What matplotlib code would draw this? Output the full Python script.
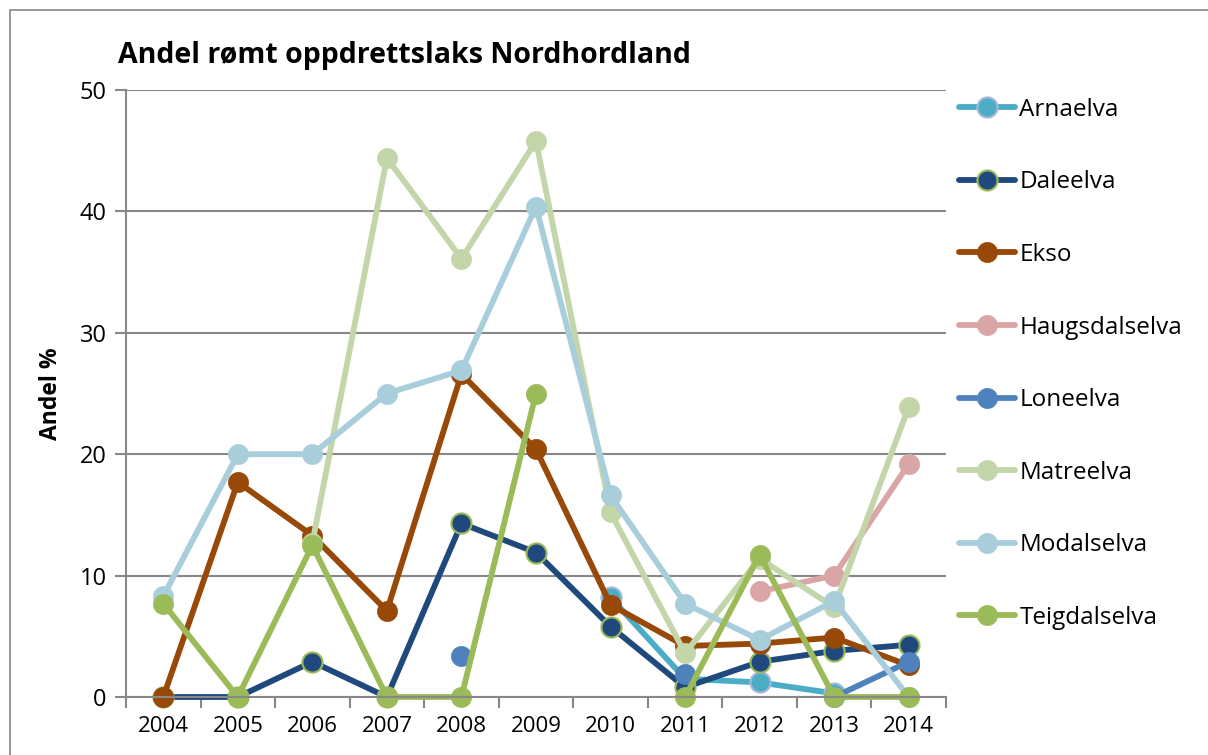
import matplotlib.pyplot as plt
import matplotlib.patches as patches
import numpy as np

plt.rcParams['font.family'] = ['Open Sans', 'DejaVu Sans']

years = [2004, 2005, 2006, 2007, 2008, 2009, 2010, 2011, 2012, 2013, 2014]
nan = np.nan
# values in % (nan = no data)
arnaelva = [nan, nan, nan, nan, nan, nan, 8.2, 1.5, 1.2, 0.3, nan]
daleelva = [0, 0, 2.9, 0, 14.3, 11.9, 5.8, 0.8, 2.9, 3.8, 4.3]
ekso = [0, 17.7, 13.3, 7.1, 26.6, 20.4, 7.6, 4.2, 4.4, 4.9, 2.6]
haugsdalselva = [nan, nan, nan, nan, nan, nan, nan, nan, 8.7, 10.0, 19.2]
loneelva = [nan, nan, nan, nan, 3.4, nan, nan, 1.9, nan, 0, 2.9]
matreelva = [nan, nan, 12.7, 44.4, 36.1, 45.8, 15.2, 3.6, 11.4, 7.4, 23.9]
modalselva = [8.3, 20, 20, 25, 26.9, 40.4, 16.6, 7.7, 4.7, 7.9, 0]
teigdalselva = [7.7, 0, 12.5, 0, 0, 25, nan, 0, 11.7, 0, 0]

names = ['Arnaelva', 'Daleelva', 'Ekso', 'Haugsdalselva', 'Loneelva',
         'Matreelva', 'Modalselva', 'Teigdalselva']
series = [arnaelva, daleelva, ekso, haugsdalselva, loneelva,
          matreelva, modalselva, teigdalselva]
colors = ['#4BACC6', '#1F497D', '#984807', '#D9A6A5', '#4F81BD',
          '#C3D6A9', '#A8CEDC', '#9BBB59']
edges = ['#A9B8DA', '#9BBB59', '#984807', '#D9A6A5', '#4F81BD',
         '#C3D6A9', '#A8CEDC', '#9BBB59']

fig = plt.figure(figsize=(12.08, 7.55), dpi=100)
fig.patches.append(patches.Rectangle((10 / 1208, -0.1), 1.2, 1 - 10 / 755 + 0.1,
                                     transform=fig.transFigure, fill=False,
                                     edgecolor='#888888', linewidth=1.2))

ax = fig.add_axes([126 / 1208, 1 - 697 / 755, (946 - 126) / 1208, (697 - 90) / 755])
x = np.arange(len(years))

for name, vals, c, ec in zip(names, series, colors, edges):
    ax.plot(x, vals, color=c, linewidth=4.2, marker='o', markersize=14.5,
            markerfacecolor=c, markeredgecolor=ec,
            markeredgewidth=1.5 if ec != c else 0.5, label=name,
            solid_capstyle='round', clip_on=False)

ax.set_xlim(-0.5, len(years) - 0.5)
ax.set_ylim(0, 50)
ax.set_yticks([0, 10, 20, 30, 40, 50])
ax.set_xticks(x)
ax.set_xticklabels([str(y) for y in years])
ax.set_xticks(np.arange(-0.5, len(years)), minor=True)
ax.tick_params(axis='x', which='major', length=0, labelsize=16, pad=14)
ax.tick_params(axis='x', which='minor', length=8, color='#888888', width=1.5)
ax.tick_params(axis='y', length=8, color='#888888', width=1.5, labelsize=17, pad=6)
ax.yaxis.grid(True, color='#888888', linewidth=1.5)
ax.set_axisbelow(True)
for s in ['top', 'right']:
    ax.spines[s].set_visible(False)
for s in ['left', 'bottom']:
    ax.spines[s].set_color('#888888')
    ax.spines[s].set_linewidth(1.5)

ax.set_ylabel('Andel %', fontsize=16.5, fontweight='bold', labelpad=12)

fig.text(118 / 1208, 1 - 55 / 755, 'Andel rømt oppdrettslaks Nordhordland',
         fontsize=20.5, fontweight='bold', va='center', ha='left')

leg = fig.legend(loc='upper left', bbox_to_anchor=(949 / 1208, 1 - 88 / 755),
                 frameon=False, fontsize=17.5, labelspacing=2.0, handlelength=2.3,
                 handletextpad=0.2, borderaxespad=0)

plt.savefig('out.png', dpi=100)
